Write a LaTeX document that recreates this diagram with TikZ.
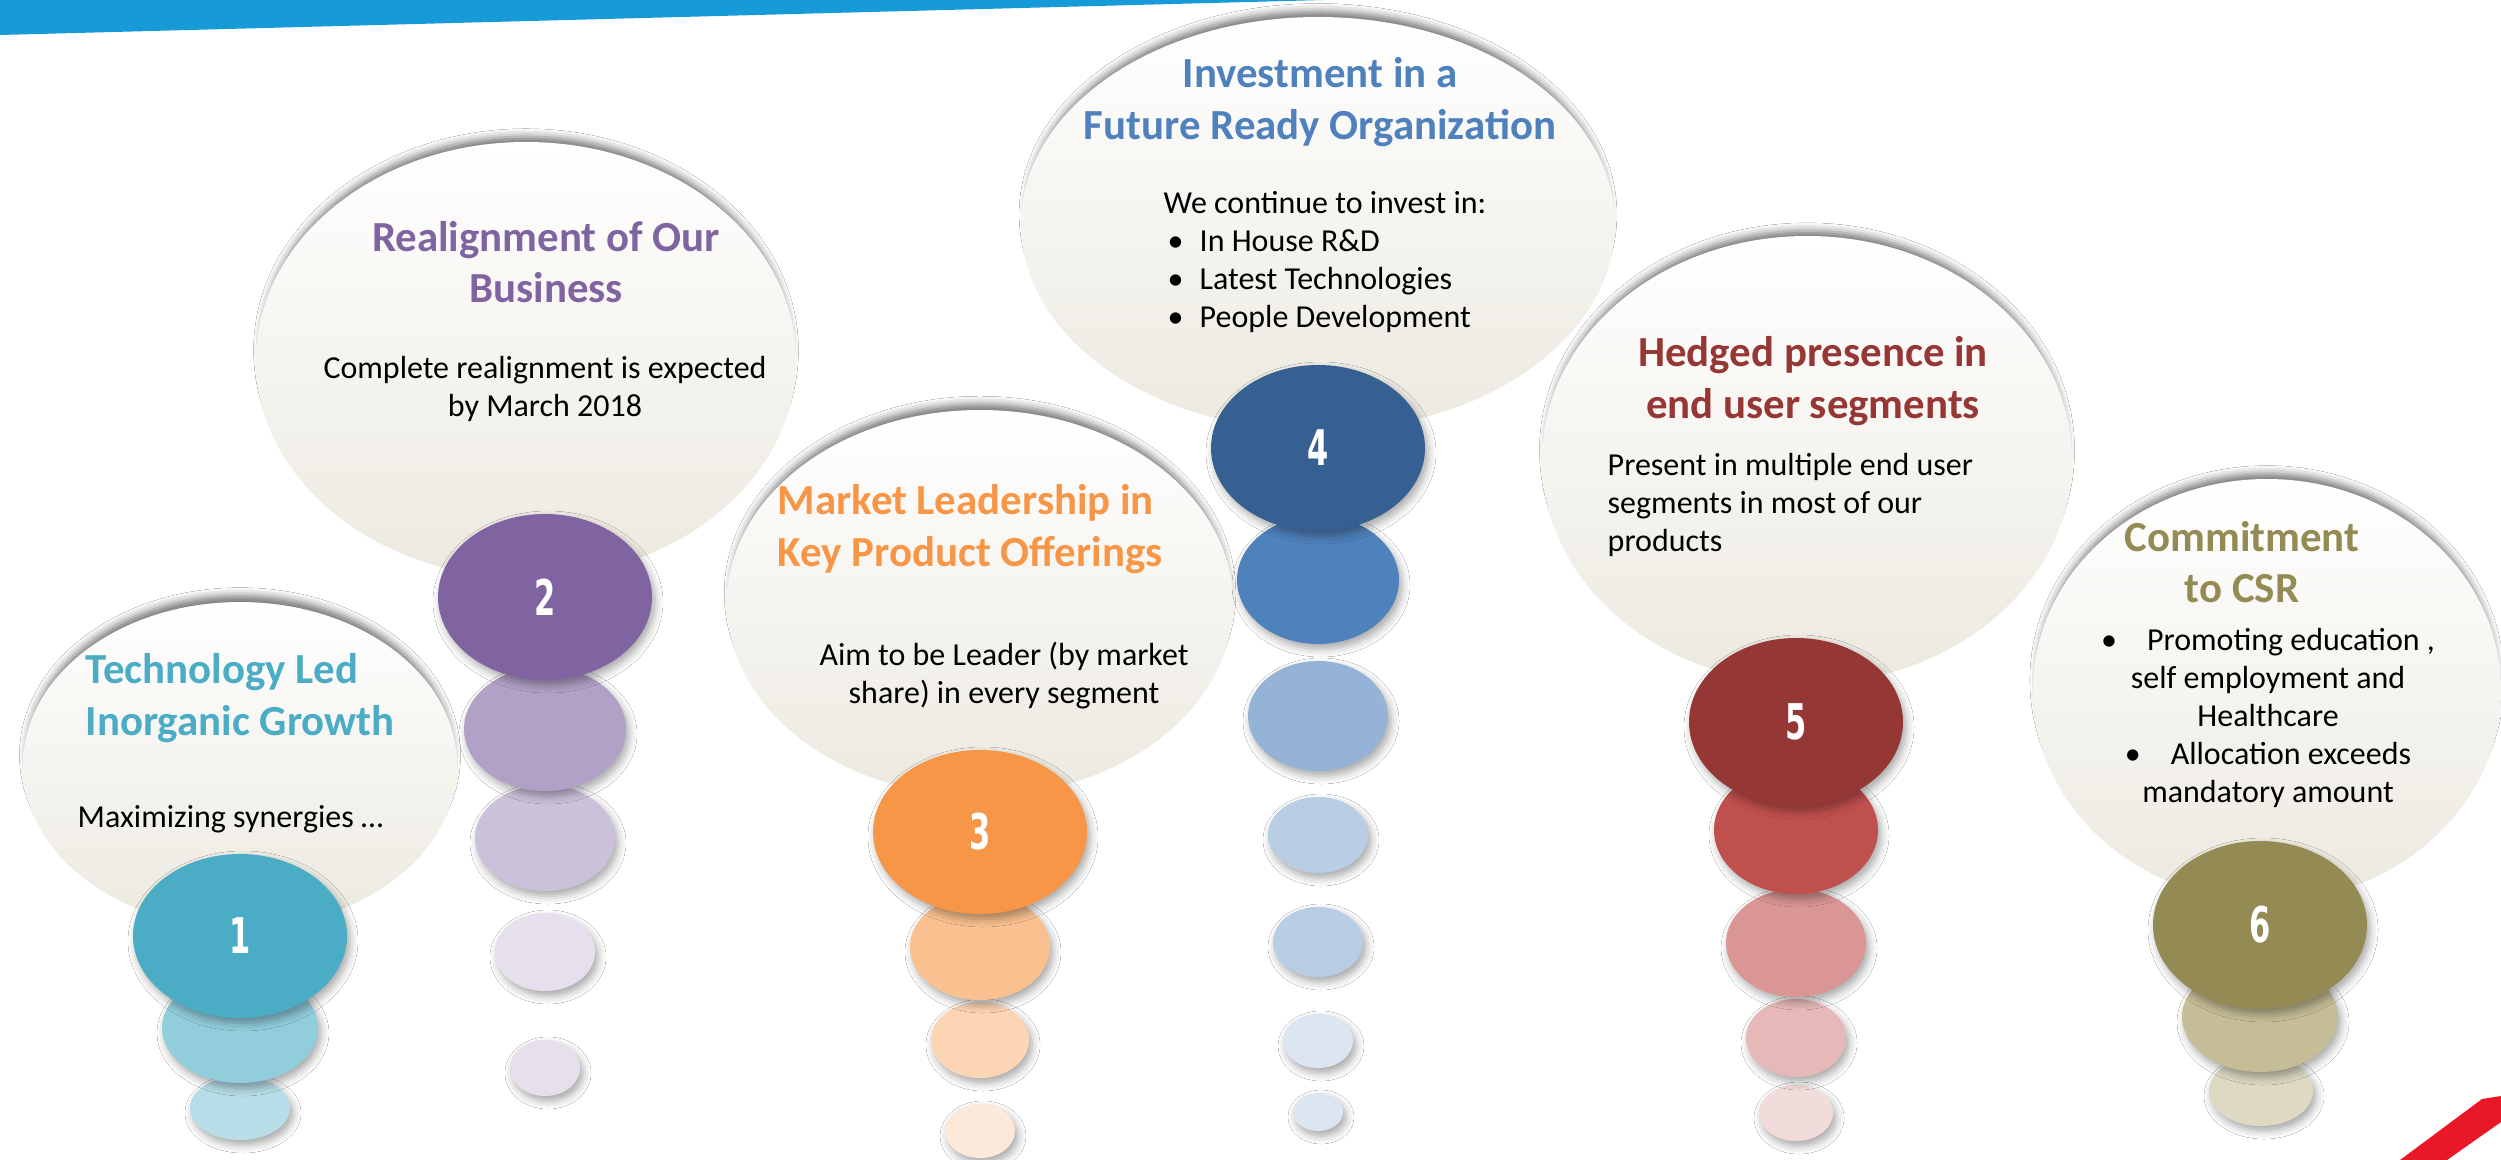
\documentclass[tikz,border=0pt]{standalone}
\usepackage{fontspec}
\setmainfont{Carlito}
\newfontfamily\numfont[FakeStretch=0.62]{DejaVu Sans}
\usetikzlibrary{shapes.geometric,shadows.blur}

\definecolor{banner}{RGB}{22,154,216}
\definecolor{stripe}{RGB}{232,24,40}
\definecolor{bubgray}{RGB}{236,233,224}
\definecolor{tealA}{HTML}{4BACC6}  \definecolor{tealB}{HTML}{92CDDC}  \definecolor{tealC}{HTML}{B7DEE8}
\definecolor{purA}{HTML}{8064A2}   \definecolor{purB}{HTML}{B2A1C7}   \definecolor{purC}{HTML}{CCC1DA}
\definecolor{purD}{HTML}{E5E0EC}
\definecolor{orA}{HTML}{F79646}    \definecolor{orB}{HTML}{FAC090}    \definecolor{orC}{HTML}{FCD5B5}
\definecolor{orD}{HTML}{FDE9D9}
\definecolor{bluA}{HTML}{376092}   \definecolor{bluB}{HTML}{4F81BD}   \definecolor{bluC}{HTML}{95B3D7}
\definecolor{bluD}{HTML}{B9CDE5}   \definecolor{bluE}{HTML}{DCE6F2}
\definecolor{redA}{HTML}{953735}   \definecolor{redB}{HTML}{C0504D}   \definecolor{redC}{HTML}{D99694}
\definecolor{redD}{HTML}{E6B9B8}   \definecolor{redE}{HTML}{F2DCDB}
\definecolor{oliA}{HTML}{948A54}   \definecolor{oliB}{HTML}{C4BD97}   \definecolor{oliC}{HTML}{DDD9C3}

\begin{document}
\begin{tikzpicture}[
  x=0.1mm, y=-0.1mm,
  bubble/.style 2 args={ellipse, inner sep=0pt, minimum width=#1*0.2mm, minimum height=#2*0.2mm,
    top color=white, bottom color=bubgray,
    blur shadow={shadow xshift=0mm, shadow yshift=1mm, shadow scale=0.98, shadow blur radius=0.8mm, shadow opacity=55}},
  dot/.style 2 args={ellipse, inner sep=0pt, minimum width=#1*0.2mm, minimum height=#2*0.2mm,
    blur shadow={shadow xshift=0.3mm, shadow yshift=-0.5mm, shadow blur radius=0.8mm, shadow opacity=35}},
  num/.style={text=white, font=\numfont\bfseries\fontsize{14}{14}\selectfont},
  ttl/.style={inner sep=0pt, font=\bfseries\fontsize{12.2}{14.6}\selectfont},
  txt/.style={inner sep=0pt, font=\fontsize{9.1}{10.8}\selectfont}
]
\useasboundingbox (0,0) rectangle (2501,1160);
\fill[white] (0,0) rectangle (2501,1160);

% corner bands
\fill[banner] (0,0) -- (1324,0) -- (0,35) -- cycle;
\fill[stripe] (2400,1160) -- (2482,1099) -- (2501,1096) -- (2501,1122) -- (2447,1160) -- cycle;

% bubbles
\node[bubble={217}{163}] (b1) at (240,765) {};
\node[bubble={270}{218}] (b2) at (526,360) {};
\node[bubble={253}{193}] (b3) at (980,603) {};
\node[bubble={297}{207}] (b4) at (1318,224) {};
\node[bubble={265}{224}] (b5) at (1807,460) {};
\node[bubble={234}{211}] (b6) at (2267,690) {};

% stack 1
\node[dot={50}{32}, fill=tealC] (c1c) at (240,1108) {};
\node[dot={78}{55}, fill=tealB] (c1b) at (240,1028) {};
\node[dot={107}{82}, fill=tealA, num] (c1) at (240,936) {1};

% stack 2
\node[dot={35}{28}, fill=purD] (c2e) at (545,1068) {};
\node[dot={50}{39}, fill=purD] (c2d) at (545,952) {};
\node[dot={70}{53}, fill=purC] (c2c) at (545,838) {};
\node[dot={81}{62}, fill=purB] (c2b) at (545,729) {};
\node[dot={107}{83}, fill=purA, num] (c2) at (545,597) {2};

% stack 3
\node[dot={35}{27}, fill=orD] (c3d) at (980,1131) {};
\node[dot={49}{38}, fill=orC] (c3c) at (980,1040) {};
\node[dot={70}{53}, fill=orB] (c3b) at (980,947) {};
\node[dot={107}{82}, fill=orA, num] (c3) at (980,832) {3};

% stack 4
\node[dot={25}{19}, fill=bluE] (c4g) at (1318,1112) {};
\node[dot={35}{27}, fill=bluE] (c4f) at (1318,1041) {};
\node[dot={45}{35}, fill=bluD] (c4e) at (1318,942) {};
\node[dot={50}{38}, fill=bluD] (c4d) at (1318,835) {};
\node[dot={70}{55}, fill=bluC] (c4c) at (1318,716) {};
\node[dot={81}{64}, fill=bluB] (c4b) at (1318,580) {};
\node[dot={107}{83}, fill=bluA, num] (c4) at (1318,448) {4};

% stack 5
\node[dot={37}{28}, fill=redE] (c5e) at (1796,1113) {};
\node[dot={50}{39}, fill=redD] (c5d) at (1796,1038) {};
\node[dot={70}{54}, fill=redC] (c5c) at (1796,943) {};
\node[dot={82}{64}, fill=redB] (c5b) at (1796,830) {};
\node[dot={107}{84}, fill=redA, num] (c5) at (1796,722) {5};

% stack 6
\node[dot={52}{35}, fill=oliC] (c6c) at (2261,1091) {};
\node[dot={78}{55}, fill=oliB] (c6b) at (2260,1017) {};
\node[dot={107}{84}, fill=oliA, num] (c6) at (2260,925) {6};

% texts
\node[ttl, text=tealA, align=left, anchor=west] (t1) at (85,698) {Technology Led\\Inorganic Growth};
\node[txt, anchor=west] (s1) at (77,819) {Maximizing synergies …};

\node[ttl, text=purA, align=center] (t2) at (546,262) {Realignment of Our\\Business};
\node[txt, align=center] (s2) at (545,389) {Complete realignment is expected\\by March 2018};

\node[ttl, text=orA, align=left, anchor=west] (t3) at (777,529) {Market Leadership in\\Key Product Offerings};
\node[txt, align=center] (s3) at (1004,676) {Aim to be Leader (by market\\share) in every segment};

\node[ttl, text=bluB, align=center] (t4) at (1320,102) {Investment in a\\Future Ready Organization};
\node[txt, align=left, anchor=west] (s4) at (1163,262) {We continue to invest in:\\
  \makebox[3.6mm][l]{\hspace{0.4mm}\textbullet}In House R\&D\\
  \makebox[3.6mm][l]{\hspace{0.4mm}\textbullet}Latest Technologies\\
  \makebox[3.6mm][l]{\hspace{0.4mm}\textbullet}People Development};

\node[ttl, text=redA, align=center] (t5) at (1813,381) {Hedged presence in\\end user segments};
\node[txt, align=left, anchor=west] (s5) at (1607,505) {Present in multiple end user\\segments in most of our\\products};

\node[ttl, text=oliA, align=center] (t6) at (2242,562) {Commitment\\to CSR};
\node[txt, align=center] (s6) at (2268,718) {\textbullet\hspace{3mm}Promoting education ,\\self employment and\\Healthcare\\
  \textbullet\hspace{3mm}Allocation exceeds\\mandatory amount};
\end{tikzpicture}
\end{document}
